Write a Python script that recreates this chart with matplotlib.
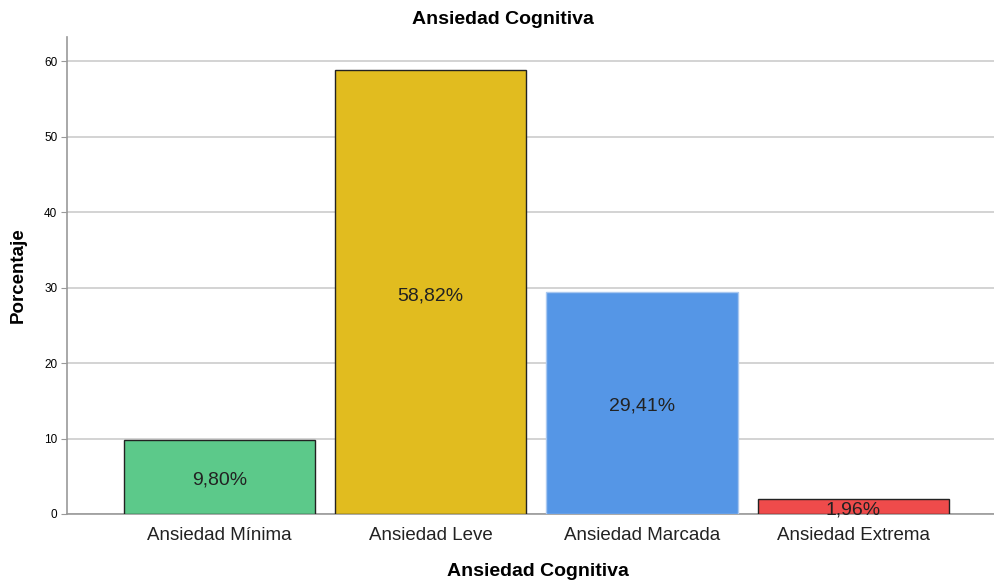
import matplotlib
matplotlib.use("Agg")
import matplotlib.pyplot as plt

categories = ["Ansiedad Mínima", "Ansiedad Leve", "Ansiedad Marcada", "Ansiedad Extrema"]
values = [9.80, 58.82, 29.41, 1.96]
labels = ["9,80%", "58,82%", "29,41%", "1,96%"]
colors = ["#5cc98a", "#e1bc1f", "#5596e6", "#ef4b4b"]
edges = ["#222222", "#222222", "#a9c8f0", "#222222"]
yticks = [0, 10, 20, 30, 40, 50, 60]

plt.rcParams['font.family'] = ['Liberation Sans', 'DejaVu Sans']

fig = plt.figure(figsize=(9.95, 5.82), dpi=100)
ax = fig.add_axes([67/995, 1 - 514/582, (995-67)/995, (514-37)/582])

x = list(range(len(categories)))
ax.bar(x, values, width=0.905, color=colors, edgecolor=edges, linewidth=1.0, zorder=3)
for xi, v, lab in zip(x, values, labels):
    ax.annotate(lab, (xi, v / 2), xytext=(0, -2.5), textcoords='offset points',
                ha='center', va='center', fontsize=14, color='#222222', zorder=4)

ax.set_xlim(-0.72, 3.67)
ax.set_ylim(0, 63.2)
ax.set_yticks(yticks)
ax.set_yticklabels([str(t) for t in yticks], fontsize=8.5)
ax.set_xticks(x)
ax.set_xticklabels(categories, fontsize=13.5, color='#222222')
ax.tick_params(axis='y', length=4, color='#999999', pad=3)
ax.tick_params(axis='x', length=0, pad=9)
ax.grid(axis='y', color='#cccccc', linewidth=1.2, zorder=0)
for s in ['top', 'right']:
    ax.spines[s].set_visible(False)
ax.spines['left'].set_color('#999999')
ax.spines['bottom'].set_color('#999999')
ax.spines['left'].set_linewidth(1.2)
ax.spines['bottom'].set_linewidth(1.2)

fig.text(503/995, 1 - 20/582, "Ansiedad Cognitiva", ha='center', va='center', fontsize=14, fontweight='bold')
fig.text(538/995, 1 - 572/582, "Ansiedad Cognitiva", ha='center', va='center', fontsize=14, fontweight='bold')
fig.text(18/995, 1 - 275/582, "Porcentaje", ha='center', va='center', rotation=90, fontsize=13.5, fontweight='bold')

fig.savefig("out.png", dpi=100)
